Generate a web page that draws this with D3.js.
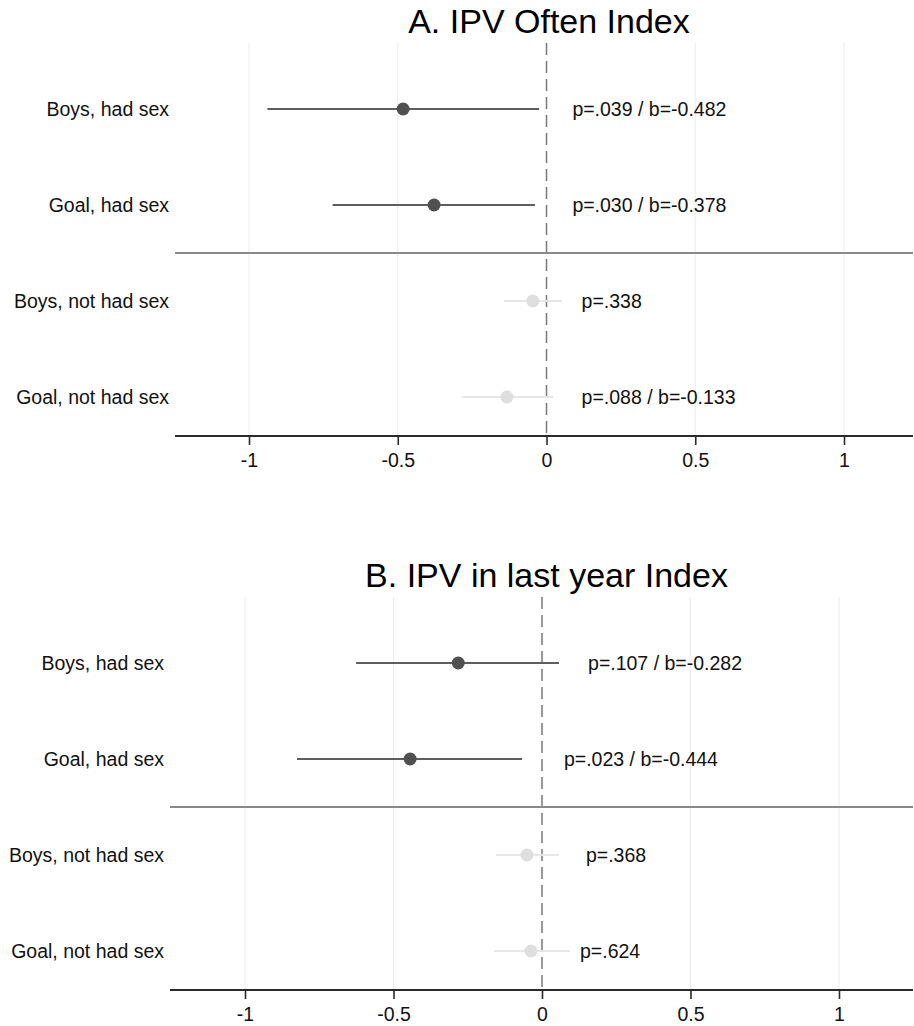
<!DOCTYPE html>
<html>
<head>
<meta charset="utf-8">
<script src="https://cdn.jsdelivr.net/npm/d3@7"></script>
<style>
  html, body { margin: 0; padding: 0; background: #ffffff; }
  svg { display: block; font-family: "Liberation Sans", Arial, Helvetica, sans-serif; }
</style>
</head>
<body>
<script>
// Coefficient plots: estimate with 95% CI per subgroup
const categories = ["Boys, had sex", "Goal, had sex", "Boys, not had sex", "Goal, not had sex"];
const groupOf = ["had", "had", "not", "not"];
const tickValues = [-1, -0.5, 0, 0.5, 1];

// Panel A
const titleA = "A. IPV Often Index";
const estA = [-0.482, -0.378, -0.046, -0.133];
const lowA = [-0.938, -0.719, -0.143, -0.285];
const highA = [-0.025, -0.039, 0.052, 0.022];
const labelsA = ["p=.039 / b=-0.482", "p=.030 / b=-0.378", "p=.338", "p=.088 / b=-0.133"];
const labelAtA = [0.087, 0.087, 0.118, 0.118];

// Panel B
const titleB = "B. IPV in last year Index";
const estB = [-0.282, -0.444, -0.051, -0.037];
const lowB = [-0.626, -0.825, -0.155, -0.162];
const highB = [0.057, -0.067, 0.057, 0.094];
const labelsB = ["p=.107 / b=-0.282", "p=.023 / b=-0.444", "p=.368", "p=.624"];
const labelAtB = [0.155, 0.074, 0.148, 0.128];

const W = 914, H = 1026;
const svg = d3.select("body").append("svg").attr("width", W).attr("height", H);

const style = {
  had: { line: "#5e5e5e", dot: "#505050" },
  not: { line: "#e6e6e6", dot: "#dedede" }
};

function drawPanel(cfg) {
  const g = svg.append("g");
  const x = d3.scaleLinear().domain([-1, 1]).range([cfg.xMinus1, cfg.xPlus1]);
  const y = d3.scaleLinear().domain([1, 4]).range([cfg.top + 66, cfg.top + 354]);
  const axisY = cfg.top + 393;

  const rows = categories.map((c, i) => ({
    cat: c, grp: groupOf[i], est: cfg.est[i], lo: cfg.low[i], hi: cfg.high[i],
    label: cfg.labels[i], at: cfg.labelAt[i], pos: i + 1
  }));

  // title
  g.append("text")
    .attr("x", (cfg.left + cfg.right) / 2 + 5)
    .attr("y", cfg.top - 10)
    .attr("text-anchor", "middle")
    .attr("font-size", 34)
    .attr("fill", "#000")
    .text(cfg.title);

  // vertical grid lines
  g.append("g").selectAll("line")
    .data(tickValues.filter(v => v !== 0))
    .join("line")
    .attr("x1", d => x(d)).attr("x2", d => x(d))
    .attr("y1", cfg.top).attr("y2", axisY)
    .attr("stroke", "#ececec").attr("stroke-width", 1);

  // zero reference line
  g.append("line")
    .attr("x1", x(0)).attr("x2", x(0))
    .attr("y1", cfg.top).attr("y2", axisY)
    .attr("stroke", "#7a7a7a").attr("stroke-width", 1.5)
    .attr("stroke-dasharray", "12,6");

  // separator between had sex / not had sex groups
  g.append("line")
    .attr("x1", cfg.left).attr("x2", cfg.right)
    .attr("y1", y(2.5)).attr("y2", y(2.5))
    .attr("stroke", "#8a8a8a").attr("stroke-width", 2);

  // category labels
  g.append("g").selectAll("text")
    .data(rows)
    .join("text")
    .attr("x", cfg.left - 6)
    .attr("y", d => y(d.pos))
    .attr("dy", "0.36em")
    .attr("text-anchor", "end")
    .attr("font-size", 19.5)
    .attr("fill", "#111")
    .text(d => d.cat);

  // confidence intervals
  g.append("g").selectAll("line")
    .data(rows)
    .join("line")
    .attr("x1", d => x(d.lo)).attr("x2", d => x(d.hi))
    .attr("y1", d => y(d.pos)).attr("y2", d => y(d.pos))
    .attr("stroke", d => style[d.grp].line).attr("stroke-width", 2.2);

  // point estimates
  g.append("g").selectAll("circle")
    .data(rows)
    .join("circle")
    .attr("cx", d => x(d.est)).attr("cy", d => y(d.pos))
    .attr("r", 6.5)
    .attr("fill", d => style[d.grp].dot);

  // value labels
  g.append("g").selectAll("text")
    .data(rows)
    .join("text")
    .attr("x", d => x(d.at))
    .attr("y", d => y(d.pos))
    .attr("dy", "0.36em")
    .attr("font-size", 19.5)
    .attr("fill", "#111")
    .text(d => d.label);

  // x axis
  g.append("line")
    .attr("x1", cfg.left).attr("x2", cfg.right)
    .attr("y1", axisY).attr("y2", axisY)
    .attr("stroke", "#2a2a2a").attr("stroke-width", 2);

  const ax = g.append("g")
    .attr("transform", `translate(0,${axisY})`)
    .call(d3.axisBottom(x).tickValues(tickValues).tickSize(9).tickSizeOuter(0).tickPadding(8)
      .tickFormat(d => String(d)));
  ax.select(".domain").remove();
  ax.selectAll(".tick line").attr("stroke", "#2a2a2a").attr("stroke-width", 1.6);
  ax.selectAll(".tick text")
    .attr("font-size", 19.5)
    .attr("font-family", "Liberation Sans, Arial, sans-serif")
    .attr("fill", "#111");
}

drawPanel({
  title: titleA, top: 43, left: 175, right: 913, xMinus1: 249, xPlus1: 844,
  est: estA, low: lowA, high: highA, labels: labelsA, labelAt: labelAtA
});

drawPanel({
  title: titleB, top: 597, left: 170, right: 913, xMinus1: 245, xPlus1: 839,
  est: estB, low: lowB, high: highB, labels: labelsB, labelAt: labelAtB
});
</script>
</body>
</html>
